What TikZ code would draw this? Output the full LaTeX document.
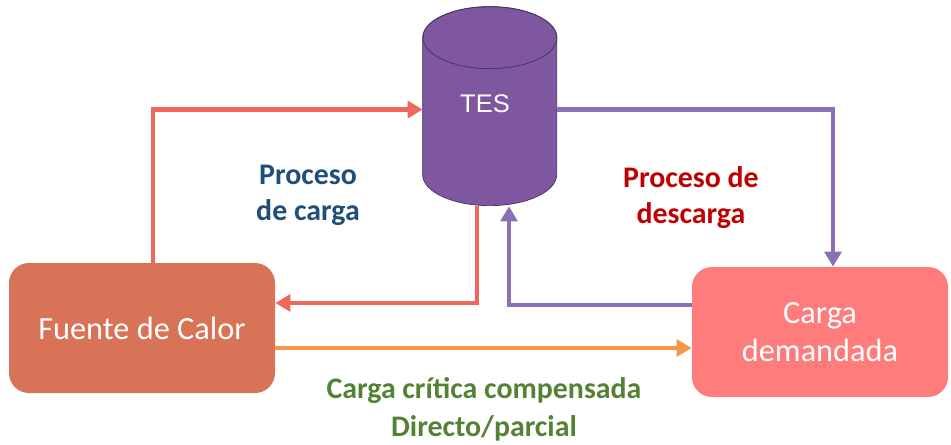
\documentclass[tikz,border=0pt]{standalone}
\usepackage{fontspec}
\setmainfont{Carlito}
\newfontfamily\tesfont{Liberation Sans}
\usetikzlibrary{arrows.meta, positioning, calc, fit}

\definecolor{srcfill}{RGB}{217,115,88}
\definecolor{loadfill}{RGB}{255,124,124}
\definecolor{tesfill}{RGB}{127,87,160}
\definecolor{tesline}{RGB}{70,50,90}
\definecolor{chargeline}{RGB}{240,103,92}
\definecolor{dischargeline}{RGB}{138,112,180}
\definecolor{directline}{RGB}{247,150,70}
\definecolor{bluetxt}{RGB}{31,78,121}
\definecolor{redtxt}{RGB}{192,0,0}
\definecolor{greentxt}{RGB}{84,130,53}

\begin{document}
\begin{tikzpicture}[
    x=0.02cm, y=0.02cm,
    font=\fontsize{18.4}{21}\selectfont,
    box/.style={rounded corners=0.4cm, text=white, align=center, inner sep=0pt},
    flow/.style={line width=2.8pt, -{Triangle[length=8.5pt, width=9.5pt]}},
    caption/.style={font=\fontsize{17}{20.5}\selectfont\bfseries, align=center}
]
\useasboundingbox (0,0) rectangle (951,444);

% --- Blocks ---
\node[box, fill=srcfill, fit={(9,51) (275,181)}] (src) {};
\node at (src.center) [text=white] {Fuente de Calor};
\node[box, fill=loadfill, fit={(692,47) (948,177)}] (load) {};
\node at (load.center) [text=white, align=center, font=\fontsize{18.4}{21.5}\selectfont] {Carga\\demandada};

% --- Storage tank (TES) ---
\node[fit={(423,238) (557,437)}, inner sep=0pt] (tes) {};
\filldraw[fill=tesfill, draw=tesline, thin]
    (tes.north west) ++(0,-31) -- ++(0,-137)
    arc[start angle=180, end angle=360, x radius=67, y radius=31]
    -- ++(0,137)
    arc[start angle=0, end angle=180, x radius=67, y radius=31] -- cycle;
\draw[tesline, thin] ($(tes.north)+(0,-31)$) ellipse[x radius=67, y radius=31];
\node[text=white, font=\tesfont\fontsize{14.5}{16}\selectfont] (teslbl) at (485,340) {TES};

% --- Charge ---
\draw[flow, chargeline] ($(src.north)+(11,0)$) |- ($(tes.west)+(0,-3)$);
\draw[flow, chargeline] ($(tes.south)+(-13,0)$) |- ($(src.east)+(0,25)$);

% --- Discharge ---
\draw[flow, dischargeline] ($(tes.east)+(0,-3)$) -| ($(load.north)+(13,0)$);
\draw[flow, dischargeline] ($(load.west)+(0,27)$) -| ($(tes.south)+(19,0)$);

% --- Direct ---
\coordinate (dirA) at ($(src.east)+(0,-20)$);
\draw[flow, directline] (dirA) -- (dirA -| load.west);

% --- Captions ---
\node[caption, text=bluetxt] (chg) at (308,249) {Proceso\\de carga};
\node[caption, text=redtxt] (dis) at (691,246) {Proceso de\\descarga};
\node[caption, text=greentxt, font=\fontsize{17}{21.5}\selectfont\bfseries] (dir) at (484,35) {Carga crítica compensada\\Directo/parcial};

\end{tikzpicture}
\end{document}
